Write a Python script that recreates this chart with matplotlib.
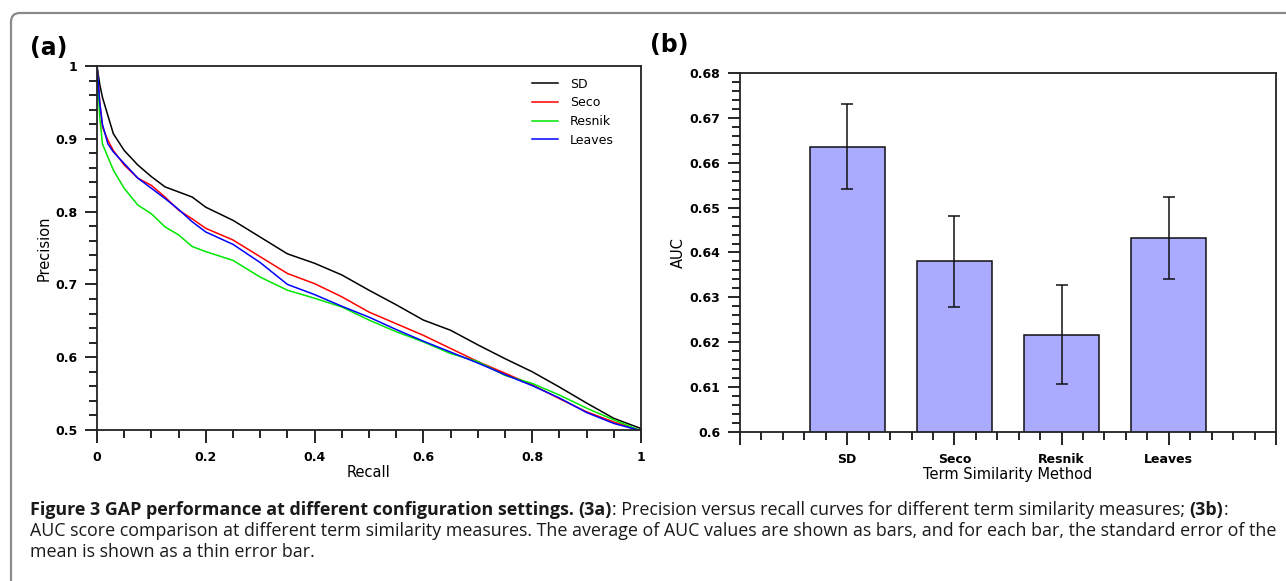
import matplotlib

matplotlib.use("Agg")
import matplotlib.pyplot as plt
from matplotlib.patches import FancyBboxPatch
from matplotlib.ticker import FuncFormatter, MultipleLocator

W, H = 1286, 581

# panel (a): precision / recall curves
recall = [0.0, 0.005, 0.01, 0.02, 0.03, 0.05, 0.075, 0.1, 0.125, 0.15, 0.175,
          0.2, 0.25, 0.3, 0.35, 0.4, 0.45, 0.5, 0.55, 0.6, 0.65, 0.7, 0.75,
          0.8, 0.85, 0.9, 0.95, 1.0]
prec_sd = [1.0, 0.975, 0.957, 0.932, 0.907, 0.884, 0.864, 0.848, 0.834, 0.827,
           0.820, 0.806, 0.788, 0.765, 0.742, 0.729, 0.713, 0.692, 0.672,
           0.651, 0.637, 0.617, 0.598, 0.580, 0.559, 0.537, 0.516, 0.502]
prec_seco = [1.0, 0.950, 0.916, 0.898, 0.884, 0.864, 0.846, 0.836, 0.820,
             0.802, 0.790, 0.777, 0.761, 0.738, 0.715, 0.701, 0.683, 0.662,
             0.646, 0.630, 0.612, 0.594, 0.578, 0.562, 0.543, 0.525, 0.511,
             0.499]
prec_resnik = [1.0, 0.930, 0.893, 0.875, 0.857, 0.832, 0.809, 0.797, 0.779,
               0.768, 0.752, 0.745, 0.733, 0.710, 0.692, 0.681, 0.669, 0.651,
               0.635, 0.621, 0.605, 0.594, 0.575, 0.564, 0.548, 0.530, 0.514,
               0.499]
prec_leaves = [1.0, 0.950, 0.920, 0.893, 0.882, 0.866, 0.846, 0.832, 0.818,
               0.803, 0.786, 0.772, 0.755, 0.730, 0.700, 0.686, 0.670, 0.655,
               0.638, 0.622, 0.607, 0.592, 0.576, 0.561, 0.544, 0.524, 0.509,
               0.499]

# panel (b): AUC bars with standard error
methods = ["SD", "Seco", "Resnik", "Leaves"]
auc_mean = [0.6636, 0.6380, 0.6217, 0.6433]
auc_err = [0.0094, 0.0101, 0.0111, 0.0091]

curve_colors = ["#000000", "#ff0000", "#00e600", "#0000ff"]

fig = plt.figure(figsize=(W / 100, H / 100), dpi=100)
plt.rcParams["font.family"] = "DejaVu Sans"


def px_box(left, top, right, bottom):
    return [left / W, 1 - bottom / H, (right - left) / W, (bottom - top) / H]


def style_axes(ax):
    for s in ax.spines.values():
        s.set_linewidth(1.3)
        s.set_color("#222222")
    ax.tick_params(which="major", direction="out", length=9, width=1.2,
                   labelsize=9)
    ax.tick_params(which="minor", direction="out", length=5.5, width=1.2)
    for lab in ax.get_xticklabels() + ax.get_yticklabels():
        lab.set_fontweight("bold")


fmt = FuncFormatter(lambda v, pos: f"{v:g}")

# (a)
ax1 = fig.add_axes(px_box(97, 66, 641, 430))
series = [prec_sd, prec_seco, prec_resnik, prec_leaves]
for prec, name, col in zip(series, methods, curve_colors):
    ax1.plot(recall, prec, color=col, lw=1.1, label=name)
ax1.set_xlim(0, 1)
ax1.set_ylim(0.5, 1)
ax1.xaxis.set_major_locator(MultipleLocator(0.2))
ax1.xaxis.set_minor_locator(MultipleLocator(0.05))
ax1.yaxis.set_major_locator(MultipleLocator(0.1))
ax1.yaxis.set_minor_locator(MultipleLocator(0.02))
ax1.xaxis.set_major_formatter(fmt)
ax1.yaxis.set_major_formatter(fmt)
style_axes(ax1)
ax1.tick_params(axis="x", which="major", pad=6)
ax1.tick_params(axis="y", which="major", pad=5)
ax1.set_xlabel("Recall", fontsize=10.5, labelpad=1)
ax1.set_ylabel("Precision", fontsize=10.5, labelpad=3)
ax1.legend(loc="upper left", bbox_to_anchor=(0.80, 0.968), frameon=False,
           fontsize=9, handlelength=2.1, handletextpad=0.9, labelspacing=0.45,
           borderpad=0, borderaxespad=0)

# (b)
ax2 = fig.add_axes(px_box(740, 73, 1276, 432))
pos = list(range(1, len(methods) + 1))
ax2.bar(pos, auc_mean, width=0.7, color="#aaaaff", edgecolor="#111111",
        lw=1.1, zorder=2)
ax2.errorbar(pos, auc_mean, yerr=auc_err, fmt="none", ecolor="#111111",
             elinewidth=1.1, capsize=4, capthick=1.1, zorder=3)
ax2.set_xlim(0, 5)
ax2.set_ylim(0.6, 0.68)
ax2.set_xticks(range(6), [""] + methods + [""])
ax2.xaxis.set_minor_locator(MultipleLocator(0.2))
ax2.yaxis.set_major_locator(MultipleLocator(0.01))
ax2.yaxis.set_minor_locator(MultipleLocator(0.002))
ax2.yaxis.set_major_formatter(fmt)
style_axes(ax2)
ax2.tick_params(axis="x", which="major", pad=6)
ax2.tick_params(axis="y", which="major", pad=5)
ax2.set_xlabel("Term Similarity Method", fontsize=10.5, labelpad=1)
ax2.set_ylabel("AUC", fontsize=10.5, labelpad=3)

fig.text(49 / W, 1 - 48 / H, "(a)", fontsize=17, fontweight="bold",
         ha="center", va="center")
fig.text(669 / W, 1 - 45 / H, "(b)", fontsize=17, fontweight="bold",
         ha="center", va="center")

# rounded frame round the figure, open at the right and bottom
frame = FancyBboxPatch((0.11, -0.3), 13.5, (H - 13) / 100 + 0.3,
                       boxstyle="round,pad=0,rounding_size=0.09",
                       transform=fig.dpi_scale_trans, fill=False,
                       edgecolor="#8a8a8a", lw=1.6)
fig.patches.append(frame)

# caption
cap_lines = [
    [("Figure 3 GAP performance at different configuration settings. ", "bold"),
     ("(3a)", "bold"),
     (": Precision versus recall curves for different term similarity measures; ",
      "normal"),
     ("(3b)", "bold"), (":", "normal")],
    [("AUC score comparison at different term similarity measures. The average "
      "of AUC values are shown as bars, and for each bar, the standard error of "
      "the", "normal")],
    [("mean is shown as a thin error bar.", "normal")],
]
baselines = [515, 536, 557]
renderer = fig.canvas.get_renderer()

# find a size at which the second line spans the same width as in the figure
probe = fig.text(0, 0, cap_lines[1][0][0], fontsize=10, family="Open Sans")
probe_w = probe.get_window_extent(renderer).width
probe.remove()
cap_size = 10 * (1279 - 30) / probe_w

for runs, base in zip(cap_lines, baselines):
    x = 30
    for txt, weight in runs:
        t = fig.text(x / W, 1 - base / H, txt, fontsize=cap_size,
                     family="Open Sans", fontweight=weight, va="baseline",
                     ha="left", color="#1a1a1a")
        x = t.get_window_extent(renderer).x1

fig.savefig("out.png", dpi=100)
